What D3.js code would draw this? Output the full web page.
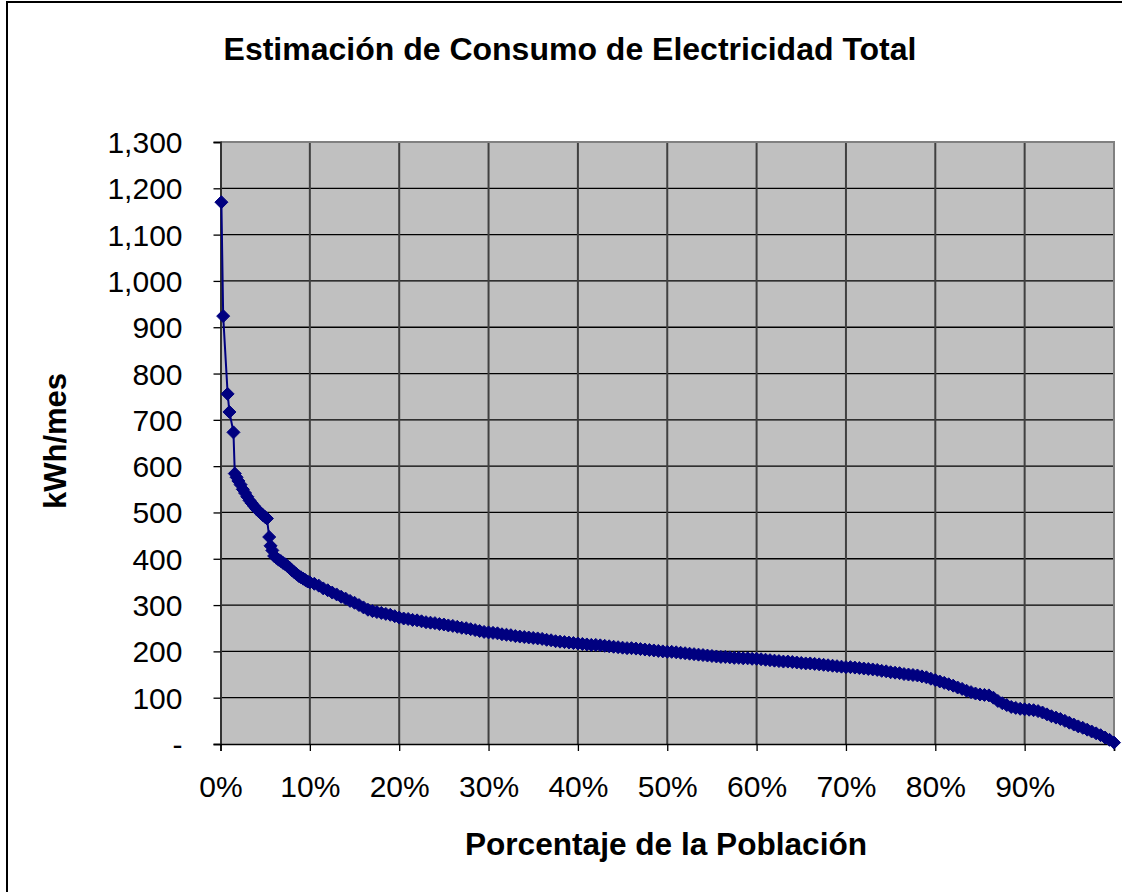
<!DOCTYPE html>
<html>
<head>
<meta charset="utf-8">
<script src="https://cdn.jsdelivr.net/npm/d3@7"></script>
<style>
  html, body { margin: 0; padding: 0; background: #ffffff; }
  svg { display: block; }
  text { font-family: Arial, "Liberation Sans", sans-serif; fill: #000; }
</style>
</head>
<body>
<script>
// ---------------- DATA ----------------
const chartTitle = "Estimación de Consumo de Electricidad Total";
const xAxisTitle = "Porcentaje de la Población";
const yAxisTitle = "kWh/mes";

const yTicks = [0, 100, 200, 300, 400, 500, 600, 700, 800, 900, 1000, 1100, 1200, 1300];
const xTicks = [0, 10, 20, 30, 40, 50, 60, 70, 80, 90, 100];
const xTickLabels = ["0%", "10%", "20%", "30%", "40%", "50%", "60%", "70%", "80%", "90%"];

// population share (%) of each point, sorted households
const populationPct = [
  0.1, 0.3, 0.8, 1.0, 1.45, 1.6, 1.8, 2.0, 2.25, 2.5, 2.75, 3.0, 3.25, 3.5, 3.75,
  4.0, 4.25, 4.5, 4.75, 5.0, 5.2, 5.45, 5.6, 5.8, 6.0, 6.25, 6.5, 6.75, 7.0, 7.25,
  7.5, 7.75, 8.0, 8.25, 8.5, 8.75, 9.0, 9.25, 9.5, 9.75, 10.0,
  10.5, 11.0, 11.5, 12.0, 12.5, 13.0, 13.5, 14.0, 14.5, 15.0, 15.5, 16.0, 16.5, 17.0, 17.5,
  18.0, 18.5, 19.0, 19.5, 20.0, 20.5, 21.0, 21.5, 22.0, 22.5, 23.0, 23.5, 24.0, 24.5, 25.0,
  25.5, 26.0, 26.5, 27.0, 27.5, 28.0, 28.5, 29.0, 29.5, 30.0, 30.5, 31.0, 31.5, 32.0, 32.5,
  33.0, 33.5, 34.0, 34.5, 35.0, 35.5, 36.0, 36.5, 37.0, 37.5, 38.0, 38.5, 39.0, 39.5, 40.0,
  40.5, 41.0, 41.5, 42.0, 42.5, 43.0, 43.5, 44.0, 44.5, 45.0, 45.5, 46.0, 46.5, 47.0, 47.5,
  48.0, 48.5, 49.0, 49.5, 50.0, 50.5, 51.0, 51.5, 52.0, 52.5, 53.0, 53.5, 54.0, 54.5, 55.0,
  55.5, 56.0, 56.5, 57.0, 57.5, 58.0, 58.5, 59.0, 59.5, 60.0, 60.5, 61.0, 61.5, 62.0, 62.5,
  63.0, 63.5, 64.0, 64.5, 65.0, 65.5, 66.0, 66.5, 67.0, 67.5, 68.0, 68.5, 69.0, 69.5, 70.0,
  70.5, 71.0, 71.5, 72.0, 72.5, 73.0, 73.5, 74.0, 74.5, 75.0, 75.5, 76.0, 76.5, 77.0, 77.5,
  78.0, 78.5, 79.0, 79.5, 80.0, 80.5, 81.0, 81.5, 82.0, 82.5, 83.0, 83.5, 84.0, 84.5, 85.0,
  85.5, 86.0, 86.5, 87.0, 87.5, 88.0, 88.5, 89.0, 89.5, 90.0, 90.5, 91.0, 91.5, 92.0, 92.5,
  93.0, 93.5, 94.0, 94.5, 95.0, 95.5, 96.0, 96.5, 97.0, 97.5, 98.0, 98.5, 99.0, 99.5, 100.0
];

// monthly consumption (kWh/mes)
const consumptionKwh = [
  1170, 924, 756, 717, 673, 584, 576, 568, 560, 550, 542, 534, 526, 520, 514,
  508, 503, 499, 494, 490, 487, 447, 428, 418, 406, 402, 398, 395, 391, 388,
  384, 380, 375, 371, 367, 363, 360, 357, 354, 351, 349,
  346, 342, 336, 332, 327, 323, 318, 314, 309, 305, 300, 295, 290, 287, 285,
  283, 281, 279, 276, 273, 271, 270, 268, 267, 265, 263, 262, 261, 259, 258,
  256, 255, 253, 251, 250, 248, 246, 244, 242, 241, 240, 239, 237, 236, 235,
  233, 232, 231, 230, 229, 228, 227, 225, 224, 222, 221, 220, 219, 218, 217,
  216, 215, 214, 214, 213, 212, 211, 210, 209, 208, 207, 207, 206, 205, 204,
  203, 202, 201, 200, 199, 199, 198, 197, 196, 195, 194, 193, 192, 191, 190,
  189, 188, 188, 187, 186, 186, 185, 185, 184, 184, 183, 182, 181, 180, 179,
  178, 178, 177, 176, 175, 174, 174, 173, 172, 171, 170, 169, 168, 167, 166,
  166, 165, 164, 163, 162, 161, 160, 158, 157, 155, 154, 153, 151, 150, 149,
  148, 146, 144, 141, 138, 135, 132, 129, 126, 122, 119, 115, 112, 109, 107,
  106, 105, 100, 93, 88, 84, 80, 78, 76, 75, 74, 73, 71, 68, 64,
  60, 57, 54, 50, 46, 42, 38, 35, 31, 27, 23, 19, 14, 9, 3
];

// ---------------- CHART ----------------
const W = 1122, H = 892;
const plot = { left: 220.5, right: 1114, top: 142, bottom: 744 };

const svg = d3.select("body").append("svg")
  .attr("width", W).attr("height", H)
  .attr("viewBox", `0 0 ${W} ${H}`);

svg.append("rect").attr("x", 0).attr("y", 0).attr("width", W).attr("height", H).attr("fill", "#fff");

// outer chart border
svg.append("rect")
  .attr("x", 7).attr("y", 2).attr("width", W + 20).attr("height", H + 20)
  .attr("fill", "none").attr("stroke", "#000").attr("stroke-width", 2);

const x = d3.scaleLinear().domain([0, 100]).range([plot.left, plot.right]);
const y = d3.scaleLinear().domain([0, 1300]).range([plot.bottom, plot.top]);

// plot background
svg.append("rect")
  .attr("x", x(0)).attr("y", y(1300))
  .attr("width", x(100) - x(0)).attr("height", y(0) - y(1300))
  .attr("fill", "#C0C0C0");

// horizontal gridlines
svg.append("g").selectAll("line")
  .data(yTicks.filter(v => v > 0 && v < 1300))
  .join("line")
  .attr("x1", x(0)).attr("x2", x(100))
  .attr("y1", d => y(d)).attr("y2", d => y(d))
  .attr("stroke", "#000").attr("stroke-width", 1.3);

// vertical gridlines
svg.append("g").selectAll("line")
  .data(xTicks.filter(v => v > 0 && v < 100))
  .join("line")
  .attr("x1", d => x(d)).attr("x2", d => x(d))
  .attr("y1", y(1300)).attr("y2", y(0))
  .attr("stroke", "#404040").attr("stroke-width", 2);

// plot border top/right
svg.append("path")
  .attr("d", `M${x(0)},${y(1300)}H${x(100)}V${y(0)}`)
  .attr("fill", "none").attr("stroke", "#808080").attr("stroke-width", 2);

// Y axis
const yAxis = d3.axisLeft(y)
  .tickValues(yTicks)
  .tickSize(7)
  .tickPadding(31)
  .tickFormat(v => v === 0 ? "-" : d3.format(",")(v));
const gy = svg.append("g").attr("transform", `translate(${x(0)},0)`).call(yAxis);
gy.select(".domain").attr("stroke", "#333").attr("stroke-width", 2);
gy.selectAll(".tick line").attr("stroke", "#000").attr("stroke-width", 1.3);
gy.selectAll(".tick text")
  .attr("font-family", "Arial, 'Liberation Sans', sans-serif")
  .attr("font-size", 30).attr("fill", "#000").attr("dy", "0.35em");

// X axis
const xAxis = d3.axisBottom(x)
  .tickValues(xTicks)
  .tickSize(7)
  .tickPadding(0)
  .tickFormat((v, i) => xTickLabels[i] || "");
const gx = svg.append("g").attr("transform", `translate(0,${y(0)})`).call(xAxis);
gx.select(".domain").attr("stroke", "#000").attr("stroke-width", 1.5);
gx.selectAll(".tick line").attr("stroke", "#000").attr("stroke-width", 1.3);
gx.selectAll(".tick text")
  .attr("font-family", "Arial, 'Liberation Sans', sans-serif")
  .attr("font-size", 30).attr("fill", "#000")
  .attr("y", 53).attr("dy", 0);

// data
const data = populationPct.map((p, i) => ({ p, v: consumptionKwh[i] }));
const line = d3.line().x(d => x(d.p)).y(d => y(d.v));

svg.append("path")
  .datum(data)
  .attr("d", line)
  .attr("fill", "none").attr("stroke", "#000080").attr("stroke-width", 2);

const diamond = "M0,-6.5L6.5,0L0,6.5L-6.5,0Z";
svg.append("g").selectAll("path")
  .data(data)
  .join("path")
  .attr("d", diamond)
  .attr("transform", d => `translate(${x(d.p)},${y(d.v)})`)
  .attr("fill", "#000080").attr("stroke", "#000080").attr("stroke-width", 1);

// titles
svg.append("text")
  .attr("x", 570).attr("y", 60)
  .attr("text-anchor", "middle")
  .attr("font-size", 32).attr("font-weight", "bold")
  .text(chartTitle);

svg.append("text")
  .attr("x", 666).attr("y", 855)
  .attr("text-anchor", "middle")
  .attr("font-size", 31.6).attr("font-weight", "bold")
  .text(xAxisTitle);

svg.append("text")
  .attr("transform", "translate(66,441) rotate(-90)")
  .attr("text-anchor", "middle")
  .attr("font-size", 31).attr("font-weight", "bold")
  .text(yAxisTitle);
</script>
</body>
</html>
